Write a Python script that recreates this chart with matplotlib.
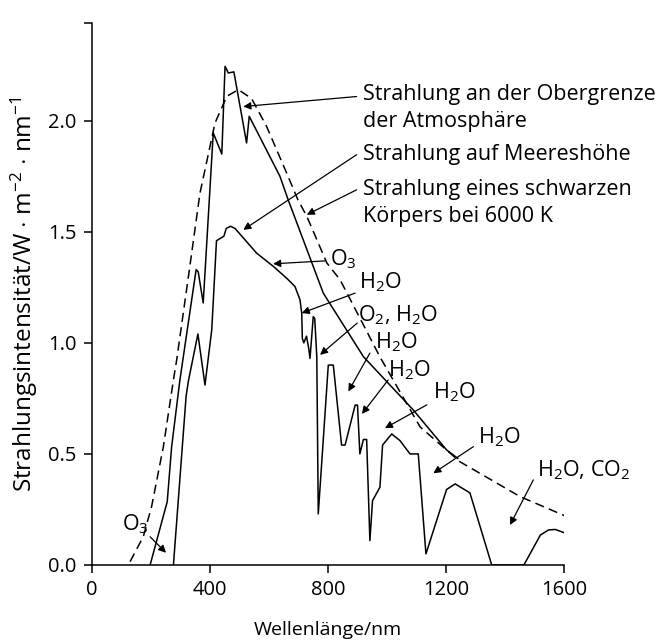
import matplotlib
matplotlib.use("Agg")
import matplotlib.pyplot as plt

plt.rcParams['font.family'] = ['Open Sans', 'DejaVu Sans']
plt.rcParams['mathtext.fontset'] = 'custom'
plt.rcParams['mathtext.rm'] = 'Open Sans'
plt.rcParams['mathtext.it'] = 'Open Sans:italic'
plt.rcParams['mathtext.bf'] = 'Open Sans:bold'

# --- data (wavelength in nm, intensity in W m^-2 nm^-1) ---
top_wl = [197, 255, 270, 298, 353, 360, 377, 411, 440, 451, 462, 481, 524, 533,
          637, 665, 784, 920, 1089, 1202, 1240]
top_val = [0.0, 0.285, 0.533, 0.833, 1.33, 1.32, 1.18, 1.945, 1.85, 2.245, 2.215,
           2.22, 1.90, 2.02, 1.75, 1.644, 1.224, 0.938, 0.698, 0.518, 0.48]

sea_wl = [276, 319, 327, 359, 383, 406, 422, 447, 455, 470, 485, 558, 615, 660,
          688, 705, 711, 713, 718, 727, 734, 739, 750, 755, 762, 767, 801, 818,
          846, 858, 892, 900, 908, 920, 931, 942, 951, 976, 985, 1016, 1044, 1078,
          1095, 1106, 1132, 1202, 1231, 1281, 1355, 1464, 1520, 1548, 1571, 1605]
sea_val = [0.0, 0.76, 0.83, 1.04, 0.81, 1.06, 1.46, 1.48, 1.515, 1.525, 1.515,
           1.404, 1.344, 1.291, 1.254, 1.194, 1.134, 1.02, 1.0, 1.03, 0.98, 0.93,
           1.118, 1.11, 0.938, 0.23, 0.90, 0.90, 0.54, 0.54, 0.72, 0.72, 0.50,
           0.565, 0.565, 0.11, 0.29, 0.35, 0.54, 0.59, 0.56, 0.50, 0.50, 0.50,
           0.05, 0.34, 0.365, 0.325, 0.0, 0.0, 0.135, 0.158, 0.16, 0.143]

bb_wl = [129, 174, 202, 242, 276, 287, 327, 366, 417, 457, 496, 541, 592, 660,
         698, 728, 796, 841, 976, 1112, 1247, 1451, 1609]
bb_val = [0.015, 0.128, 0.263, 0.533, 0.833, 0.923, 1.30, 1.674, 1.99, 2.11,
          2.14, 2.10, 1.974, 1.764, 1.644, 1.57, 1.36, 1.284, 0.937, 0.622,
          0.465, 0.308, 0.218]

xticks = [0, 400, 800, 1200, 1600]
yticks = [0.0, 0.5, 1.0, 1.5, 2.0]

# big labels: (text, text_x, text_y, tail_x, tail_y, tip_x, tip_y)
big_labels = [
    ("Strahlung an der Obergrenze\nder Atmosphäre", 918, 2.057, 897, 2.109, 513, 2.064),
    ("Strahlung auf Meereshöhe", 918, 1.847, 897, 1.847, 513, 1.509),
    ("Strahlung eines schwarzen\nKörpers bei 6000 K", 918, 1.629, 897, 1.689, 728, 1.577),
]
# small labels: (text, x_left, baseline_y, tail_x, tail_y, tip_x, tip_y)
small_labels = [
    (r"O$_\mathregular{3}$", 807, 1.348, 790, 1.369, 614, 1.356),
    (r"H$_\mathregular{2}$O", 906, 1.246, 892, 1.224, 711, 1.134),
    (r"O$_\mathregular{2}$, H$_\mathregular{2}$O", 903, 1.096, 899, 1.089, 773, 0.946),
    (r"H$_\mathregular{2}$O", 959, 0.976, 942, 0.954, 869, 0.781),
    (r"H$_\mathregular{2}$O", 1004, 0.848, 1004, 0.833, 915, 0.68),
    (r"H$_\mathregular{2}$O", 1157, 0.751, 1135, 0.721, 993, 0.616),
    (r"H$_\mathregular{2}$O", 1310, 0.548, 1293, 0.533, 1157, 0.413),
    (r"H$_\mathregular{2}$O, CO$_\mathregular{2}$", 1507, 0.398, 1496, 0.383, 1417, 0.18),
    (r"O$_\mathregular{3}$", 100, 0.158, 197, 0.127, 251, 0.055),
]

fig = plt.figure(figsize=(6.61, 6.43), dpi=100)
ax = fig.add_axes([92/661, 78/643, 472/661, 542/643])

ax.plot(bb_wl, bb_val, color='black', lw=1.1, dashes=(6, 3.5))
ax.plot(top_wl, top_val, color='black', lw=1.1)
ax.plot(sea_wl, sea_val, color='black', lw=1.1)

ax.set_xlim(0, 1600)
ax.set_ylim(0, 2.44)
for s in ['top', 'right']:
    ax.spines[s].set_visible(False)
for s in ['left', 'bottom']:
    ax.spines[s].set_linewidth(1.1)
ax.set_xticks(xticks)
ax.set_xticklabels([str(v) for v in xticks])
ax.set_yticks(yticks + [2.44])
ax.set_yticklabels([f"{v:.1f}" for v in yticks] + [""])
ax.tick_params(axis='both', direction='out', length=6, width=1.1, labelsize=14.5, pad=5)

ax.set_xlabel("Wellenlänge/nm", fontsize=14, labelpad=15)
ax.set_ylabel(r"Strahlungsintensität/W $\cdot$ m$^{\mathregular{−2}}$ $\cdot$ nm$^{\mathregular{−1}}$",
              fontsize=17.5, labelpad=6)

arrow_kw = dict(arrowstyle='-|>', lw=0.9, color='black', mutation_scale=11,
                shrinkA=0, shrinkB=0)
for txt, tx, ty, ax0, ay0, ax1, ay1 in big_labels:
    ax.text(tx, ty, txt, fontsize=15.5, ha='left', va='center', linespacing=1.4)
    ax.annotate("", xy=(ax1, ay1), xytext=(ax0, ay0), arrowprops=arrow_kw,
                annotation_clip=False)
for txt, tx, ty, ax0, ay0, ax1, ay1 in small_labels:
    ax.text(tx, ty, txt, fontsize=15.5, ha='left', va='baseline')
    ax.annotate("", xy=(ax1, ay1), xytext=(ax0, ay0), arrowprops=arrow_kw,
                annotation_clip=False)

fig.savefig("out.png", dpi=100)
